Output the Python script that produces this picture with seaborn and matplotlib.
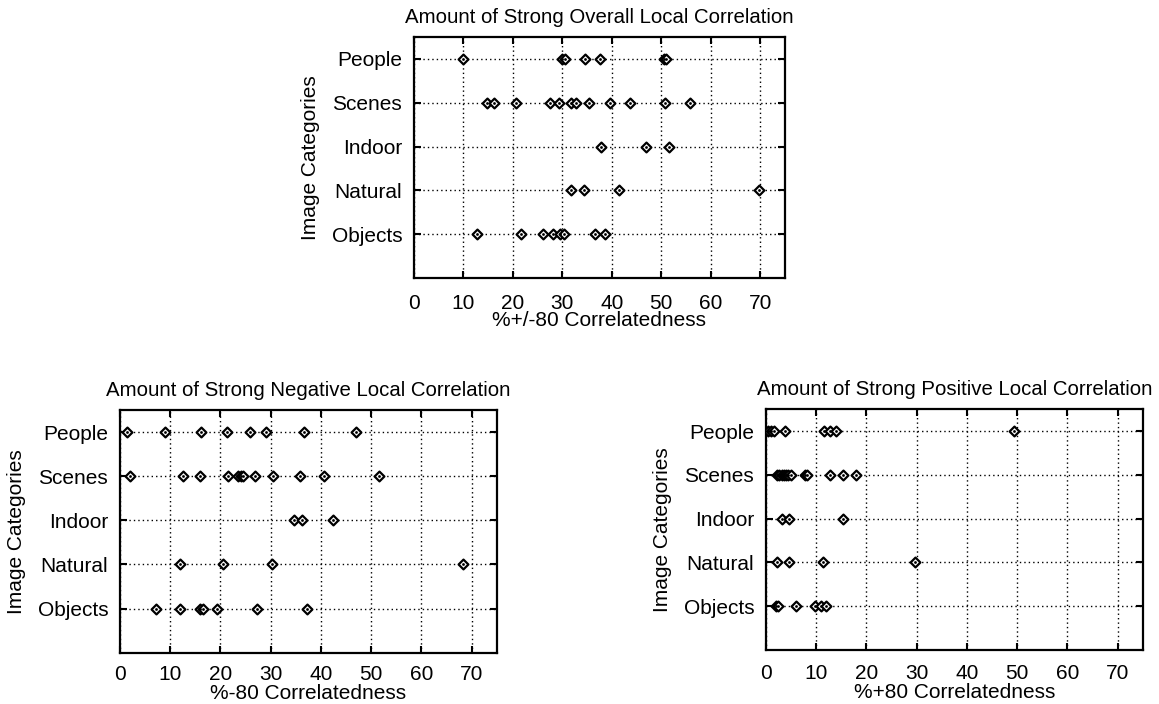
import matplotlib
matplotlib.use("Agg")
import matplotlib.pyplot as plt
import seaborn as sns
import pandas as pd

categories = ["People", "Scenes", "Indoor", "Natural", "Objects"]
x_ticks = [0, 10, 20, 30, 40, 50, 60, 70]

# Overall (+/-80)
overall_people = [10.0, 30.0, 30.5, 34.5, 37.5, 50.5, 51.0]
overall_scenes = [14.7, 16.2, 20.6, 27.4, 29.4, 31.8, 32.8, 35.3, 39.6, 43.6, 50.8, 55.8]
overall_indoor = [37.8, 46.9, 51.5]
overall_natural = [31.7, 34.3, 41.5, 69.8]
overall_objects = [12.8, 21.7, 26.1, 28.0, 29.6, 30.4, 36.6, 38.6]

# Negative (-80)
neg_people = [1.3, 9.0, 16.1, 21.4, 25.8, 29.1, 36.6, 46.9]
neg_scenes = [2.0, 12.6, 15.9, 21.6, 23.5, 24.0, 24.4, 26.9, 30.5, 35.8, 40.6, 51.5]
neg_indoor = [34.7, 36.3, 42.4]
neg_natural = [11.9, 20.6, 30.3, 68.2]
neg_objects = [7.2, 12.0, 15.9, 16.6, 19.3, 27.3, 37.3]

# Positive (+80)
pos_people = [0.3, 1.0, 1.5, 3.8, 11.5, 12.8, 14.0, 49.4]
pos_scenes = [2.2, 2.6, 3.1, 3.5, 3.9, 4.4, 5.0, 7.8, 8.1, 12.8, 15.3, 18.0]
pos_indoor = [3.2, 4.6, 15.4]
pos_natural = [2.1, 4.6, 11.3, 29.6]
pos_objects = [2.0, 2.4, 5.9, 9.8, 11.0, 11.9]

panels = [
    ("Amount of Strong Overall Local Correlation", "%+/-80 Correlatedness",
     [overall_people, overall_scenes, overall_indoor, overall_natural, overall_objects],
     [414 / 1159, 1 - 278.3 / 704, 371 / 1159, 241.6 / 704], 11.5, -1.5),
    ("Amount of Strong Negative Local Correlation", "%-80 Correlatedness",
     [neg_people, neg_scenes, neg_indoor, neg_natural, neg_objects],
     [120 / 1159, 1 - 652.7 / 704, 376.7 / 1159, 242.7 / 704], 8.5, 0),
    ("Amount of Strong Positive Local Correlation", "%+80 Correlatedness",
     [pos_people, pos_scenes, pos_indoor, pos_natural, pos_objects],
     [766 / 1159, 1 - 650 / 704, 376.7 / 1159, 240.7 / 704], 10, 0),
]

sns.set_theme(style="white")
plt.rcParams["font.family"] = ["Liberation Sans", "DejaVu Sans"]

fig = plt.figure(figsize=(11.59, 7.04), dpi=100)
fig.patch.set_facecolor("white")

for title, xlabel, series, rect, xpad, xlpad in panels:
    ax = fig.add_axes(rect)
    rows = []
    for cat, vals in zip(categories, series):
        for v in vals:
            rows.append({"category": cat, "value": v})
    df = pd.DataFrame(rows)
    sns.stripplot(data=df, x="value", y="category", order=categories, jitter=False,
                  marker="D", size=5.0, color="white", edgecolor="black", linewidth=1.6,
                  ax=ax, zorder=3)
    sns.stripplot(data=df, x="value", y="category", order=categories, jitter=False,
                  marker="o", size=2.0, color="black", linewidth=0, ax=ax, zorder=4)
    ax.set_xlim(0, 75)
    ax.set_ylim(5, -0.5)
    ax.set_xticks(x_ticks)
    ax.set_xticklabels([str(t) for t in x_ticks])
    ax.grid(True, color="black", linestyle=(0, (1, 2.2)), linewidth=1.0)
    ax.set_axisbelow(True)
    for s in ax.spines.values():
        s.set_visible(True)
        s.set_color("black")
        s.set_linewidth(1.6)
    ax.tick_params(axis="both", which="major", direction="in", length=5, width=1.5,
                   top=True, right=True, bottom=True, left=True, colors="black",
                   labelsize=15)
    ax.tick_params(axis="x", pad=xpad)
    ax.tick_params(axis="y", pad=8.5)
    ax.set_title(title, fontsize=14.7, pad=10, color="black")
    ax.set_xlabel(xlabel, fontsize=15, labelpad=xlpad, color="black")
    ax.set_ylabel("Image Categories", fontsize=15, labelpad=8, color="black")

fig.savefig("out.png", dpi=100, facecolor="white")
